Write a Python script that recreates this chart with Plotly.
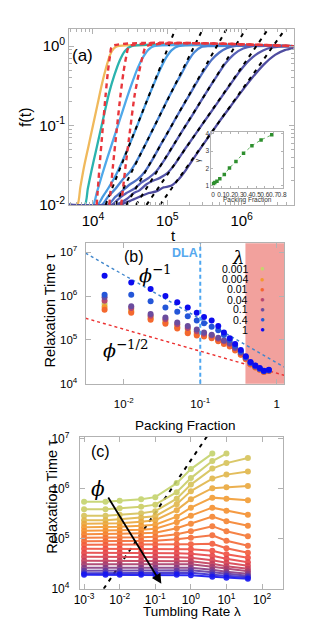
import math
import plotly.graph_objects as go

W, H = 311, 620
SANS = "Liberation Sans, Arial, Helvetica, sans-serif"
SERIF = "DejaVu Serif, Liberation Serif, serif"
FRAME = "#b2b2b2"

# ======================= panel (a): f(t) curves (log10 values) =======================
A_ORANGE_LOGT = [3.67, 3.79, 3.83, 3.88, 3.94, 4.00, 4.06, 4.12, 4.18, 4.23, 4.28, 4.33, 6.70]
A_ORANGE_LOGF = [-2.0, -2.0, -1.78, -1.52, -1.26, -1.0, -0.74, -0.48, -0.26, -0.11, -0.03, 0.0, 0.0]
A_TEAL_LOGT = [3.67, 3.89, 3.93, 3.98, 4.04, 4.10, 4.16, 4.22, 4.29, 4.36, 4.43, 4.52, 6.70]
A_TEAL_LOGF = [-2.0, -2.0, -1.80, -1.57, -1.32, -1.07, -0.82, -0.58, -0.36, -0.18, -0.06, 0.0, 0.0]
A_LB1_LOGT = [3.67, 4.00, 4.05, 4.12, 4.20, 4.28, 4.36, 4.44, 4.52, 4.60, 4.68, 4.75, 4.82, 6.70]
A_LB1_LOGF = [-2.0, -2.0, -1.85, -1.63, -1.39, -1.16, -0.93, -0.70, -0.48, -0.28, -0.13, -0.04, 0.0, 0.0]
A_LB2_LOGT = [3.67, 4.06, 4.13, 4.20, 4.30, 4.40, 4.50, 4.60, 4.70, 4.80, 4.90, 4.98, 5.06, 5.15, 6.70]
A_LB2_LOGF = [-2.0, -2.0, -1.90, -1.80, -1.64, -1.44, -1.22, -0.99, -0.75, -0.52, -0.30, -0.15, -0.05, 0.0, 0.0]
A_B3_LOGT = [3.67, 4.12, 4.20, 4.30, 4.40, 4.50, 4.60, 4.70, 4.80, 4.90, 5.00, 5.10, 5.20, 5.28, 5.36, 5.46, 5.55, 6.70]
A_B3_LOGF = [-2.0, -2.0, -1.90, -1.80, -1.68, -1.58, -1.43, -1.25, -1.06, -0.87, -0.68, -0.50, -0.33, -0.19, -0.08, -0.01, 0.0, 0.0]
A_B4_LOGT = [3.67, 4.20, 4.30, 4.40, 4.50, 4.60, 4.70, 4.80, 4.90, 5.00, 5.10, 5.20, 5.30, 5.40, 5.50, 5.60, 5.70, 5.80, 5.90, 6.70]
A_B4_LOGF = [-2.0, -2.0, -1.90, -1.82, -1.74, -1.68, -1.58, -1.43, -1.26, -1.10, -0.93, -0.77, -0.61, -0.45, -0.30, -0.17, -0.08, -0.025, 0.0, 0.0]
A_B5_LOGT = [3.67, 4.25, 4.35, 4.45, 4.55, 4.65, 4.75, 4.85, 4.95, 5.05, 5.20, 5.35, 5.50, 5.65, 5.78, 5.90, 6.02, 6.15, 6.70]
A_B5_LOGF = [-2.0, -2.0, -1.92, -1.85, -1.80, -1.72, -1.66, -1.58, -1.45, -1.30, -1.07, -0.85, -0.62, -0.40, -0.22, -0.10, -0.03, 0.0, 0.0]
A_P6_LOGT = [3.67, 4.30, 4.45, 4.55, 4.62, 4.72, 4.80, 4.90, 5.00, 5.10, 5.25, 5.40, 5.55, 5.70, 5.85, 5.98, 6.10, 6.22, 6.35, 6.50, 6.70]
A_P6_LOGF = [-2.0, -2.0, -1.93, -1.85, -1.82, -1.74, -1.70, -1.66, -1.60, -1.49, -1.28, -1.08, -0.88, -0.68, -0.48, -0.31, -0.18, -0.09, -0.03, -0.005, 0.0]
A_P7_LOGT = [3.67, 4.35, 4.50, 4.62, 4.75, 4.85, 4.95, 5.05, 5.15, 5.25, 5.40, 5.55, 5.70, 5.85, 6.00, 6.15, 6.30, 6.45, 6.58, 6.70]
A_P7_LOGF = [-2.0, -2.0, -1.95, -1.90, -1.85, -1.83, -1.78, -1.76, -1.68, -1.56, -1.35, -1.15, -0.95, -0.76, -0.57, -0.39, -0.23, -0.11, -0.05, -0.025]
A_SOLID_COLORS = ["#f0b95c", "#2ab3ae", "#4fa9ea", "#489ce2", "#4a88d6", "#4f70c4", "#5861b6", "#5556aa", "#4f4c9f"]

# red dashed fits
A_R1_LOGT = [4.05, 4.09, 4.13, 4.17, 4.20, 4.23, 4.26, 6.70]
A_R2_LOGT = [4.22, 4.27, 4.32, 4.37, 4.41, 4.45, 4.49, 6.70]
A_R3_LOGT = [4.38, 4.44, 4.50, 4.56, 4.62, 4.67, 4.72, 6.70]
A_R_LOGF = [-2.0, -1.50, -1.05, -0.62, -0.33, -0.12, 0.0, 0.0]

# black dashed power-law fits: start (f=0.01) and end (top of frame) log10 t
A_FIT_START_LOGT = [4.17, 4.30, 4.45, 4.58, 4.72, 4.90]
A_FIT_END_LOGT = [5.11, 5.48, 5.80, 6.06, 6.36, 6.59]
A_FIT_LOGF = [-2.0, 0.22]

# inset
INSET_PHI = [0.005, 0.02, 0.045, 0.078, 0.13, 0.19, 0.265, 0.353, 0.45, 0.556, 0.68]
INSET_GAMMA = [1.13, 1.19, 1.26, 1.41, 1.66, 2.03, 2.41, 2.88, 3.31, 3.65, 3.94]

# ======================= panel (b): relaxation time vs packing fraction =======================
PHI_B = [0.0056, 0.0125, 0.0224, 0.035, 0.050, 0.0686, 0.09, 0.112, 0.141, 0.172,
         0.204, 0.243, 0.286, 0.339, 0.394, 0.455, 0.525, 0.60, 0.68, 0.79]
LAMBDA_LABELS = ["0.001", "0.004", "0.01", "0.04", "0.1", "0.4", "1"]
LAMBDA_COLORS = ["#c5d46c", "#f39a2e", "#f4682e", "#b8476e", "#6b4c9e", "#2456d8", "#0c0cef"]
B_LOGTAU_0001 = [5.82, 5.69, 5.52, 5.43, 5.32, 5.23, 5.16, 5.12, 5.08, 5.01, 4.95, 4.89, 4.79, 4.69, 4.58, 4.46, 4.38, 4.33, 4.28, 4.30]
B_LOGTAU_0004 = [5.75, 5.65, 5.49, 5.40, 5.29, 5.18, 5.13, 5.10, 5.06, 4.99, 4.93, 4.87, 4.78, 4.67, 4.57, 4.45, 4.38, 4.32, 4.27, 4.29]
B_LOGTAU_001 = [5.69, 5.62, 5.46, 5.37, 5.26, 5.15, 5.10, 5.08, 5.04, 4.97, 4.91, 4.85, 4.76, 4.66, 4.56, 4.44, 4.37, 4.32, 4.27, 4.29]
B_LOGTAU_004 = [5.89, 5.73, 5.55, 5.47, 5.36, 5.27, 5.20, 5.14, 5.10, 5.03, 4.97, 4.91, 4.81, 4.70, 4.59, 4.47, 4.39, 4.33, 4.28, 4.30]
B_LOGTAU_01 = [5.97, 5.77, 5.59, 5.51, 5.40, 5.32, 5.24, 5.17, 5.12, 5.05, 4.99, 4.93, 4.83, 4.72, 4.60, 4.48, 4.40, 4.34, 4.29, 4.31]
B_LOGTAU_04 = [6.03, 6.03, 5.88, 5.74, 5.64, 5.54, 5.44, 5.38, 5.30, 5.22, 5.11, 5.00, 4.87, 4.74, 4.61, 4.48, 4.41, 4.35, 4.29, 4.31]
B_LOGTAU_1 = [6.46, 6.31, 6.16, 6.00, 5.86, 5.74, 5.62, 5.52, 5.44, 5.32, 5.17, 5.04, 4.91, 4.77, 4.63, 4.50, 4.42, 4.36, 4.30, 4.32]
B_SERIES = [B_LOGTAU_0001, B_LOGTAU_0004, B_LOGTAU_001, B_LOGTAU_004, B_LOGTAU_01, B_LOGTAU_04, B_LOGTAU_1]

B_GUIDE_PHI = [0.00316, 1.25]
B_GUIDE_INV1 = [9.5e6, 2.42e4]      # ~ phi^-1
B_GUIDE_INVHALF = [3.12e5, 1.57e4]  # ~ phi^-1/2
B_DLA_PHI = 0.1
B_SHADE_PHI = [0.39, 2.0]

# ======================= panel (c): relaxation time vs tumbling rate =======================
LAM_C = [0.001, 0.004, 0.01, 0.04, 0.1, 0.4, 1, 4, 10, 40]
C_LOGTAU = [
    [5.74, 5.74, 5.76, 5.79, 5.83, 6.11, 6.39, 6.70],
    [5.59, 5.59, 5.61, 5.64, 5.68, 5.93, 6.21, 6.55, 6.70],
    [5.46, 5.46, 5.48, 5.51, 5.55, 5.80, 6.08, 6.40, 6.51, 6.61],
    [5.37, 5.37, 5.39, 5.42, 5.45, 5.69, 5.95, 6.20, 6.28, 6.34],
    [5.30, 5.30, 5.31, 5.34, 5.37, 5.57, 5.79, 6.01, 6.03, 6.05],
    [5.23, 5.23, 5.24, 5.26, 5.28, 5.44, 5.62, 5.82, 5.80, 5.77],
    [5.16, 5.16, 5.17, 5.18, 5.20, 5.33, 5.46, 5.62, 5.56, 5.48],
    [5.09, 5.09, 5.10, 5.11, 5.12, 5.21, 5.30, 5.44, 5.35, 5.26],
    [5.02, 5.02, 5.02, 5.03, 5.04, 5.09, 5.15, 5.25, 5.15, 5.05],
    [4.95, 4.95, 4.95, 4.96, 4.96, 4.99, 5.02, 5.07, 4.96, 4.86],
    [4.88, 4.88, 4.88, 4.88, 4.88, 4.89, 4.89, 4.90, 4.81, 4.72],
    [4.80, 4.80, 4.80, 4.80, 4.80, 4.80, 4.79, 4.76, 4.69, 4.62],
    [4.72, 4.72, 4.72, 4.72, 4.72, 4.71, 4.70, 4.66, 4.60, 4.53],
    [4.64, 4.64, 4.64, 4.64, 4.64, 4.63, 4.62, 4.57, 4.52, 4.46],
    [4.56, 4.56, 4.56, 4.56, 4.56, 4.56, 4.55, 4.50, 4.45, 4.40],
    [4.49, 4.49, 4.49, 4.49, 4.49, 4.49, 4.49, 4.44, 4.40, 4.35],
    [4.42, 4.42, 4.42, 4.42, 4.42, 4.42, 4.42, 4.38, 4.34, 4.30],
    [4.36, 4.36, 4.36, 4.36, 4.36, 4.36, 4.37, 4.33, 4.30, 4.26],
    [4.31, 4.31, 4.31, 4.31, 4.31, 4.31, 4.32, 4.28, 4.26, 4.23],
    [4.28, 4.28, 4.28, 4.28, 4.28, 4.28, 4.27, 4.24, 4.22, 4.20],
]
C_COLORS = ["#c4d36c", "#cacd66", "#d6c258", "#e0b64a", "#eaa83c", "#f29c32", "#f5902e", "#f5832f",
            "#f47633", "#f36a36", "#f25c3a", "#f04e40", "#e74547", "#d8414f", "#c43e5c", "#a83d6c",
            "#883c82", "#633aa2", "#3a2ccc", "#1414f2"]
C_GUIDE_LAM = [0.00355, 4.0]
C_GUIDE_TAU = [1.0e4, 1.58e7]
C_ARROW_TAIL = [0.0045, 7.1e5]   # (lambda, tau)
C_ARROW_HEAD = [0.148, 1.26e4]


def lg(v):
    return [10 ** x for x in v]


def px_x(p):
    return p / W


def px_y(p):
    return 1 - p / H


fig = go.Figure()

# ---- panel (a) traces ----
solids = [(A_ORANGE_LOGT, A_ORANGE_LOGF), (A_TEAL_LOGT, A_TEAL_LOGF), (A_LB1_LOGT, A_LB1_LOGF),
          (A_LB2_LOGT, A_LB2_LOGF), (A_B3_LOGT, A_B3_LOGF), (A_B4_LOGT, A_B4_LOGF),
          (A_B5_LOGT, A_B5_LOGF), (A_P6_LOGT, A_P6_LOGF), (A_P7_LOGT, A_P7_LOGF)]
for (lt, lf), col in zip(solids, A_SOLID_COLORS):
    fig.add_trace(go.Scatter(x=lg(lt), y=lg(lf), mode="lines",
                             line=dict(color=col, width=2.3, shape="spline", smoothing=0.6),
                             xaxis="x", yaxis="y", showlegend=False, hoverinfo="skip"))
for t0, t1 in zip(A_FIT_START_LOGT, A_FIT_END_LOGT):
    fig.add_trace(go.Scatter(x=lg([t0, t1]), y=lg(A_FIT_LOGF), mode="lines",
                             line=dict(color="black", width=2, dash="4px,5px"),
                             xaxis="x", yaxis="y", showlegend=False, hoverinfo="skip"))
for lt in (A_R1_LOGT, A_R2_LOGT, A_R3_LOGT):
    fig.add_trace(go.Scatter(x=lg(lt), y=lg(A_R_LOGF), mode="lines",
                             line=dict(color="#e8363c", width=2.4, dash="5px,4px", shape="spline", smoothing=0.6),
                             xaxis="x", yaxis="y", showlegend=False, hoverinfo="skip"))

# inset
fig.add_trace(go.Scatter(x=INSET_PHI, y=INSET_GAMMA, mode="lines+markers",
                         line=dict(color="#3a9a3a", width=0.8, dash="dot"),
                         marker=dict(color="#2e8f2e", size=3.5, symbol="square"),
                         xaxis="x4", yaxis="y4", showlegend=False, hoverinfo="skip"))

# ---- panel (b) traces ----
fig.add_trace(go.Scatter(x=B_GUIDE_PHI, y=B_GUIDE_INV1, mode="lines",
                         line=dict(color="#3f86cc", width=1.4, dash="dot"),
                         xaxis="x2", yaxis="y2", showlegend=False, hoverinfo="skip"))
fig.add_trace(go.Scatter(x=B_GUIDE_PHI, y=B_GUIDE_INVHALF, mode="lines",
                         line=dict(color="#ec3030", width=1.4, dash="dot"),
                         xaxis="x2", yaxis="y2", showlegend=False, hoverinfo="skip"))
for ser, col in zip(B_SERIES, LAMBDA_COLORS):
    fig.add_trace(go.Scatter(x=PHI_B, y=lg(ser), mode="markers",
                             marker=dict(color=col, size=6),
                             xaxis="x2", yaxis="y2", showlegend=False, hoverinfo="skip"))

# ---- panel (c) traces ----
fig.add_trace(go.Scatter(x=C_GUIDE_LAM, y=C_GUIDE_TAU, mode="lines",
                         line=dict(color="black", width=2, dash="4px,5px"),
                         xaxis="x3", yaxis="y3", showlegend=False, hoverinfo="skip"))
for row, col in zip(C_LOGTAU, C_COLORS):
    fig.add_trace(go.Scatter(x=LAM_C[:len(row)], y=lg(row), mode="lines+markers",
                             line=dict(color=col, width=2), marker=dict(color=col, size=6),
                             opacity=0.9, xaxis="x3", yaxis="y3", showlegend=False, hoverinfo="skip"))


def axis(domain, rng, anchor, tickvals, ticktext, size, typ="log", **kw):
    d = dict(domain=domain, range=rng, type=typ, anchor=anchor, showline=True, linecolor=FRAME,
             linewidth=1, mirror="ticks", ticks="inside", tickcolor=FRAME, ticklen=5, showgrid=False,
             zeroline=False, tickvals=tickvals, ticktext=ticktext, tickangle=0,
             tickfont=dict(family=SANS, size=size, color="black"))
    d.update(kw)
    return d


minor_a_x = [m * 10 ** e for e in (3, 4, 5, 6) for m in range(2, 10)]
minor_a_y = [m * 10 ** e for e in (-2, -1, 0) for m in range(2, 10)]

layout = dict(
    width=W, height=H, margin=dict(l=0, r=0, t=0, b=0),
    paper_bgcolor="white", plot_bgcolor="white", showlegend=False,
    xaxis=axis([px_x(57), px_x(289)], [3.68, 6.70], "y", [1e4, 1e5, 1e6],
               ["10<sup>4</sup>", "10<sup>5</sup>", "10<sup>6</sup>"], 15, ticklabelstandoff=2,
               minor=dict(tickvals=minor_a_x, ticks="inside", ticklen=3, tickcolor=FRAME)),
    yaxis=axis([px_y(195), px_y(14)], [-2.005, 0.22], "x", [0.01, 0.1, 1],
               ["10<sup>-2</sup>", "10<sup>-1</sup>", "10<sup>0</sup>"], 15,
               minor=dict(tickvals=minor_a_y, ticks="inside", ticklen=3, tickcolor=FRAME)),
    xaxis2=axis([px_x(74), px_x(279)], [-2.5, 0.096], "y2", [0.01, 0.1, 1],
                ["10<sup>-2</sup>", "10<sup>-1</sup>", "1"], 11.5, ticklabelstandoff=9),
    yaxis2=axis([px_y(378), px_y(234)], [4.0, 7.2], "x2", [1e4, 1e5, 1e6, 1e7],
                ["10<sup>4</sup>", "10<sup>5</sup>", "10<sup>6</sup>", "10<sup>7</sup>"], 11.5,
                ticklabelstandoff=5),
    xaxis3=axis([px_x(68), px_x(278)], [-3.12, 2.59], "y3", [1e-3, 1e-2, 1e-1, 1, 10, 100],
                ["10<sup>-3</sup>", "10<sup>-2</sup>", "10<sup>-1</sup>", "10<sup>0</sup>",
                 "10<sup>1</sup>", "10<sup>2</sup>"], 12, ticklabelstandoff=0),
    yaxis3=axis([px_y(588), px_y(432)], [4.0, 7.04], "x3", [1e4, 1e5, 1e6, 1e7],
                ["10<sup>4</sup>", "10<sup>5</sup>", "10<sup>6</sup>", "10<sup>7</sup>"], 12,
                ticklabelstandoff=7),
    xaxis4=axis([px_x(204), px_x(278)], [-0.019, 0.811], "y4",
                [0, 0.1, 0.2, 0.3, 0.4, 0.5, 0.6, 0.7, 0.8],
                ["0", "0.1", "0.2", "0.3", "0.4", "0.5", "0.6", "0.7", "0.8"], 6.5, typ="linear",
                ticklen=2, tickfont=dict(family=SANS, size=6.5, color="#333")),
    yaxis4=axis([px_y(177), px_y(120)], [0.89, 4.1], "x4", [1, 2, 3, 4], ["1", "2", "3", "4"], 6.5,
                typ="linear", ticklen=2, tickfont=dict(family=SANS, size=6.5, color="#333")),
)

layout["shapes"] = [
    dict(type="rect", xref="x2", yref="y2 domain", x0=B_SHADE_PHI[0], x1=B_SHADE_PHI[1], y0=0, y1=1,
         fillcolor="#f2a19d", line=dict(width=0), layer="below"),
    dict(type="line", xref="x2", yref="y2 domain", x0=B_DLA_PHI, x1=B_DLA_PHI, y0=0, y1=1,
         line=dict(color="#4ea6f0", width=2, dash="4px,3px")),
]


def ann(text, x, y, size, family=SANS, color="black", **kw):
    d = dict(text=text, x=px_x(x), y=px_y(y), xref="paper", yref="paper", showarrow=False,
             font=dict(family=family, size=size, color=color), xanchor="center", yanchor="middle")
    d.update(kw)
    return d


annotations = [
    ann("f(t)", 12, 105, 16, textangle=-90),
    ann("t", 165, 226, 15),
    ann("(a)", 71, 42, 17),
    ann("γ", 191, 149, 6.5, textangle=-90, color="#333"),
    ann("Packing Fraction", 241, 189.5, 6.5, color="#333"),
    ann("Relaxation Time τ", 37, 303, 14.5, textangle=-90),
    ann("Packing Fraction", 177, 421, 13.5),
    ann("(b)", 124, 247, 16),
    ann("<b>DLA</b>", 177, 244, 12.5, color="#55a8ee"),
    ann("<i>ϕ</i><sup>−1</sup>", 146, 265, 19, family=SERIF),
    ann("<i>ϕ</i><sup>−1/2</sup>", 116, 342, 19, family=SERIF),
    ann("<i>λ</i>", 231, 248, 18, family=SERIF),
    ann("Relaxation Time τ", 39, 494, 14.5, textangle=-90),
    ann("Tumbling Rate λ", 184, 611.5, 13.5),
    ann("(c)", 89, 447, 16),
    ann("<i>ϕ</i>", 87, 486, 20, family=SERIF),
]
LEG_PY = [260, 270.7, 281, 291.7, 301.7, 312.3, 322.7]
for lab, col, py in zip(LAMBDA_LABELS, LAMBDA_COLORS, LEG_PY):
    annotations.append(ann(lab, 244, py, 10.5, xanchor="right"))
    annotations.append(ann("●", 257, py, 8, color=col))

# arrow in panel (c) (annotations on log axes take log10 coordinates)
annotations.append(dict(x=math.log10(C_ARROW_HEAD[0]), y=math.log10(C_ARROW_HEAD[1]),
                        ax=math.log10(C_ARROW_TAIL[0]), ay=math.log10(C_ARROW_TAIL[1]),
                        xref="x3", yref="y3", axref="x3", ayref="y3", text="", showarrow=True,
                        arrowhead=2, arrowsize=1.1, arrowwidth=1.8, arrowcolor="black"))
layout["annotations"] = annotations

fig.update_layout(**layout)
fig.write_html("out.html")
